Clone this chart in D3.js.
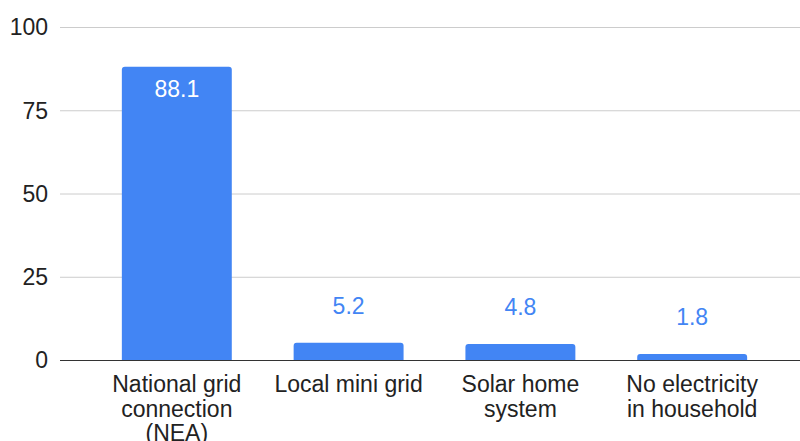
<!DOCTYPE html>
<html>
<head>
<meta charset="utf-8">
<script src="https://cdn.jsdelivr.net/npm/d3@7"></script>
<style>
  body { margin: 0; background: #fff; }
  svg { display: block; font-family: 'Liberation Sans', Arial, sans-serif; }
  .grid line { stroke: #cccccc; stroke-width: 1; }
  .tickLabel { fill: #222; font-size: 23px; }
  .catLabel { fill: #222; font-size: 23px; }
  .valueLabel { font-size: 23px; }
</style>
</head>
<body>
<div id="chart"></div>
<script>
// Data
const categories = [
  ['National grid', 'connection', '(NEA)'],
  ['Local mini grid'],
  ['Solar home', 'system'],
  ['No electricity', 'in household']
];
const values = [88.1, 5.2, 4.8, 1.8];
const yTicks = [0, 25, 50, 75, 100];

const width = 800,
  height = 441,
  plotLeft = 60,
  plotTop = 27,
  plotBottom = 360,
  barColor = '#4285F4';

let svg = d3.select('#chart')
  .append('svg')
  .attr('width', width)
  .attr('height', height);

let data = values.map((v, i) => ({ label: categories[i], value: v }));

let xScale = d3.scaleBand()
  .domain(d3.range(values.length))
  .range([plotLeft, 809])
  .paddingInner(0.36)
  .paddingOuter(0.36);

let yScale = d3.scaleLinear()
  .domain([0, 100])
  .range([plotBottom, plotTop]);

// gridlines
svg.append('g')
  .attr('class', 'grid')
  .selectAll('line')
  .data(yTicks.filter(t => t !== 0))
  .join('line')
  .attr('x1', plotLeft)
  .attr('x2', width)
  .attr('y1', d => yScale(d) + 0.5)
  .attr('y2', d => yScale(d) + 0.5);

// y tick labels
svg.append('g')
  .selectAll('text')
  .data(yTicks)
  .join('text')
  .attr('class', 'tickLabel')
  .attr('x', plotLeft - 12)
  .attr('y', d => yScale(d))
  .attr('dy', '0.36em')
  .attr('text-anchor', 'end')
  .text(d => d);

// bars with rounded top corners
function barPath(d, i) {
  let x0 = xScale(i),
    x1 = x0 + xScale.bandwidth(),
    y0 = yScale(0),
    y1 = yScale(d.value),
    r = Math.min(3, (y0 - y1) / 2);
  return 'M' + x0 + ',' + y0 +
    'V' + (y1 + r) +
    'Q' + x0 + ',' + y1 + ' ' + (x0 + r) + ',' + y1 +
    'H' + (x1 - r) +
    'Q' + x1 + ',' + y1 + ' ' + x1 + ',' + (y1 + r) +
    'V' + y0 + 'Z';
}

svg.append('g')
  .selectAll('path')
  .data(data)
  .join('path')
  .attr('d', barPath)
  .attr('fill', barColor);

// baseline
svg.append('line')
  .attr('x1', plotLeft)
  .attr('x2', width)
  .attr('y1', yScale(0) + 0.5)
  .attr('y2', yScale(0) + 0.5)
  .attr('stroke', '#333')
  .attr('stroke-width', 1.2);

// value labels: inside the tall bar, above the short ones
svg.append('g')
  .selectAll('text')
  .data(data)
  .join('text')
  .attr('class', 'valueLabel')
  .attr('x', (d, i) => xScale(i) + xScale.bandwidth() / 2)
  .attr('y', d => d.value > 20 ? yScale(d.value) + 30 : yScale(d.value) - 29)
  .attr('text-anchor', 'middle')
  .attr('fill', d => d.value > 20 ? '#fff' : barColor)
  .text(d => d.value.toFixed(1));

// category labels
let cats = svg.append('g')
  .selectAll('text')
  .data(data)
  .join('text')
  .attr('class', 'catLabel')
  .attr('text-anchor', 'middle')
  .attr('x', (d, i) => xScale(i) + xScale.bandwidth() / 2)
  .attr('y', 392);

cats.selectAll('tspan')
  .data(d => d.label)
  .join('tspan')
  .attr('x', function () { return d3.select(this.parentNode).attr('x'); })
  .attr('dy', (d, i) => i === 0 ? 0 : 24.5)
  .text(d => d);
</script>
</body>
</html>
